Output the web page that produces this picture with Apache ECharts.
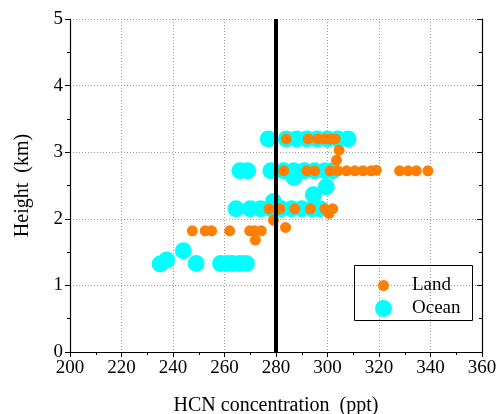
<!DOCTYPE html>
<html><head><meta charset="utf-8">
<script src="https://cdn.jsdelivr.net/npm/echarts@6/dist/echarts.min.js"></script>
<style>html,body{margin:0;padding:0;background:#fff}#c{width:497px;height:414px}</style>
</head><body><div id="c"></div>
<script>
// Ocean points [ppt, km]
const oceanData = [
  [235,1.32],[237.5,1.38],[244,1.52],[249,1.33],[258.5,1.33],[261,1.33],[263,1.33],[266,1.33],[268.5,1.33],
  [264.5,2.15],[270,2.15],[274,2.15],[278,2.15],[282,2.15],[286,2.15],[290,2.15],[294,2.15],[297,2.15],[279,2.26],
  [294.5,2.36],[299.5,2.48],
  [266,2.72],[269,2.72],[278,2.72],[283,2.72],[287,2.72],[291,2.72],[295,2.72],[299,2.72],[302,2.72],[287,2.62],
  [277,3.2],[284,3.2],[288,3.2],[292,3.2],[296,3.2],[300,3.2],[304,3.2],[308,3.2]
];
// Land points [ppt, km]
const landData = [
  [247.5,1.82],[252.5,1.82],[255,1.82],[262,1.82],[269.8,1.82],[271.7,1.82],[274.3,1.82],[272,1.68],
  [279,1.98],[283.7,1.87],
  [277.3,2.15],[281.5,2.15],[287.3,2.15],[293.4,2.15],[299,2.15],[302,2.15],[300.6,2.08],
  [283,2.72],[292,2.72],[295,2.72],[301,2.72],[304,2.72],[307.4,2.72],[310.6,2.72],[313.8,2.72],[317,2.72],[319,2.73],
  [328,2.72],[331.3,2.72],[334.5,2.72],[339,2.72],
  [303.5,2.88],[304.5,3.03],
  [284,3.2],[292.5,3.2],[296.3,3.2],[299,3.2],[301,3.2],[303,3.2]
];
// reference line at 280 ppt
const refLine = [[280,0],[280,5]];
const xTicks = {min:200, max:360, interval:20};
const yTicks = {min:0, max:5, interval:1};

const font = 'Liberation Serif';
const chart = echarts.init(document.getElementById('c'));
const axisCommon = {
  axisLine:{show:true,onZero:false,lineStyle:{color:'#000',width:1.2}},
  axisTick:{show:true,inside:false,length:5,lineStyle:{color:'#000'}},
  minorTick:{show:true,splitNumber:2,length:3,lineStyle:{color:'#000'}},
  splitLine:{show:true,lineStyle:{color:'#999',type:[1,2],width:1}}
};
chart.setOption({
  animation:false,
  textStyle:{fontFamily:font},
  grid:{left:70,right:15,top:19,bottom:62,containLabel:false,outerBoundsMode:'none'},
  xAxis:[
    Object.assign({type:'value',position:'bottom',name:'HCN concentration  (ppt)',nameLocation:'middle',nameGap:44,
      nameTextStyle:{color:'#000',fontFamily:font,fontSize:20}},xTicks,axisCommon,
      {axisLabel:{color:'#000',fontFamily:font,fontSize:19,margin:7}}),
    Object.assign({type:'value',position:'top'},xTicks,{axisLine:{show:true,lineStyle:{color:'#000',width:1.2}},
      axisTick:{show:true,inside:true,length:5,lineStyle:{color:'#000'}},minorTick:{show:true,splitNumber:2,length:3,lineStyle:{color:'#000'}},
      axisLabel:{show:false},splitLine:{show:false}})
  ],
  yAxis:[
    Object.assign({type:'value',position:'left',name:'Height  (km)',nameLocation:'middle',nameGap:37,
      nameTextStyle:{color:'#000',fontFamily:font,fontSize:20}},yTicks,axisCommon,
      {axisLabel:{color:'#000',fontFamily:font,fontSize:19,margin:7}}),
    Object.assign({type:'value',position:'right'},yTicks,{axisLine:{show:true,lineStyle:{color:'#000',width:1.2}},
      axisTick:{show:true,inside:true,length:5,lineStyle:{color:'#000'}},minorTick:{show:true,splitNumber:2,length:3,lineStyle:{color:'#000'}},
      axisLabel:{show:false},splitLine:{show:false}})
  ],
  legend:[
    {data:['Land'],left:373,top:271,orient:'vertical',itemWidth:11,itemHeight:11,
      textStyle:{fontFamily:font,fontSize:19,color:'#000',padding:[0,0,0,18]}},
    {data:['Ocean'],left:370,top:294,orient:'vertical',itemWidth:17,itemHeight:17,
      textStyle:{fontFamily:font,fontSize:19,color:'#000',padding:[0,0,0,15]}}
  ],
  graphic:[{type:'rect',shape:{x:354.5,y:265.5,width:118,height:55},style:{fill:null,stroke:'#000',lineWidth:1},z:100}],
  series:[
    {name:'Ocean',type:'scatter',data:oceanData,symbol:'circle',symbolSize:17,itemStyle:{color:'#00FFFF',opacity:1},z:2},
    {name:'Land',type:'scatter',data:landData,symbol:'circle',symbolSize:11,itemStyle:{color:'#FF8000',opacity:1},z:3},
    {name:'ref',type:'line',data:refLine,symbol:'none',lineStyle:{color:'#000',width:4},z:4}
  ]
});
</script></body></html>
